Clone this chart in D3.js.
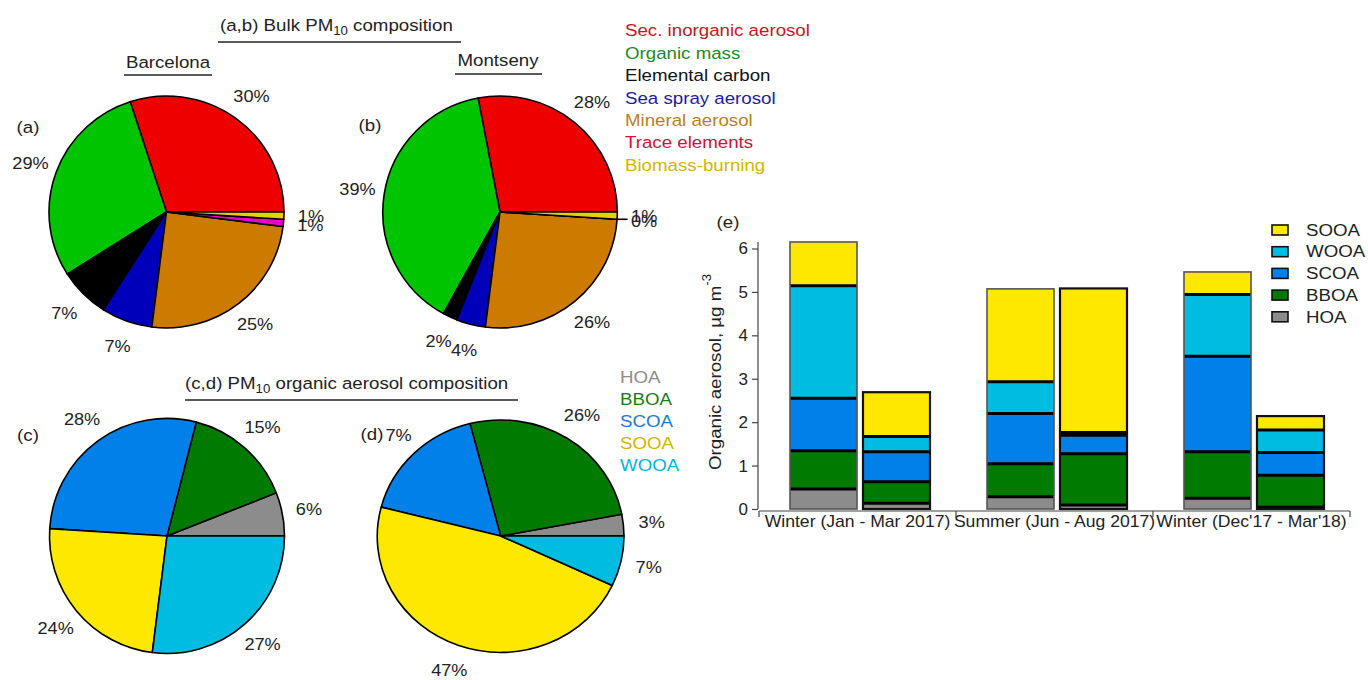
<!DOCTYPE html>
<html>
<head>
<meta charset="utf-8">
<script src="https://cdn.jsdelivr.net/npm/d3@7"></script>
<style>
  html, body { margin: 0; padding: 0; background: #fff; }
  svg { display: block; font-family: "Liberation Sans", Arial, sans-serif; }
</style>
</head>
<body>
<svg id="fig" width="1368" height="680"></svg>
<script>
// ---- Bulk PM10 composition (panels a, b) ----
const bulkComponents = ["Sec. inorganic aerosol", "Organic mass", "Elemental carbon",
  "Sea spray aerosol", "Mineral aerosol", "Trace elements", "Biomass-burning"];
const bulkFill = ["#ee0000", "#00c400", "#000000", "#0000bb", "#cc7a00", "#ee00cc", "#e8d000"];
const bulkText = ["#c8141e", "#1e8a1e", "#111111", "#1c1ca0", "#b8801a", "#d0103a", "#d4b400"];
const barcelonaBulk = [30, 29, 7, 7, 25, 1, 1];
const montsenyBulk = [28, 39, 2, 4, 26, 0, 1];

// ---- PM10 organic aerosol composition (panels c, d) ----
const oaFactors = ["HOA", "BBOA", "SCOA", "SOOA", "WOOA"];
const oaFill = ["#8c8c8c", "#007a00", "#0080e8", "#ffe800", "#00bce0"];
const oaText = ["#8c8c8c", "#1a7a1a", "#1f78d0", "#d4b400", "#00b4dc"];
const barcelonaOA = [6, 15, 28, 24, 27];
const montsenyOA = [3, 26, 17, 47, 7];

// ---- Seasonal organic aerosol (panel e), µg m-3 ----
const seasons = ["Winter (Jan - Mar 2017)", "Summer (Jun - Aug 2017)", "Winter (Dec'17 - Mar'18)"];
const sites = ["Barcelona", "Montseny"];
// values per bar, ordered season by season, Barcelona then Montseny
const hoa  = [0.46, 0.13, 0.28, 0.09, 0.25, 0.04];
const bboa = [0.88, 0.50, 0.76, 1.18, 1.07, 0.74];
const scoa = [1.21, 0.69, 1.16, 0.43, 2.20, 0.52];
const wooa = [2.59, 0.35, 0.73, 0.06, 1.42, 0.52];
const sooa = [1.01, 1.02, 2.14, 3.32, 0.52, 0.32];
const yTicks = [0, 1, 2, 3, 4, 5, 6];
const stackOrder = ["HOA", "BBOA", "SCOA", "WOOA", "SOOA"];
const legendOrder = ["SOOA", "WOOA", "SCOA", "BBOA", "HOA"];

const svg = d3.select("#fig");
const SX = 1.1; // the figure's lettering is set slightly wide

function label(parent, x, y, txt, o = {}) {
  const g = parent.append("g").attr("transform", `translate(${x},${y}) scale(${o.sx || SX},1)`);
  const t = g.append("text")
    .attr("text-anchor", o.anchor || "start")
    .attr("dominant-baseline", o.baseline || "auto")
    .attr("font-size", o.size || 17)
    .attr("fill", o.fill || "#222")
    .text(txt);
  return { g, t };
}

// ---- pies ----
function drawPie(values, fills, cx, cy, rx, ry, opts = {}) {
  const pie = d3.pie().sort(null).value(d => d)
    .startAngle(Math.PI / 2).endAngle(Math.PI / 2 - 2 * Math.PI);
  const arcs = pie(values);
  const arc = d3.arc().innerRadius(0).outerRadius(1);
  const g = svg.append("g").attr("transform", `translate(${cx},${cy}) scale(${rx},${ry})`);
  g.selectAll("path").data(arcs).join("path")
    .attr("d", arc)
    .attr("fill", (d, i) => fills[i])
    .attr("stroke", "#000")
    .attr("stroke-width", 1.6)
    .attr("stroke-linejoin", "round")
    .attr("vector-effect", "non-scaling-stroke");
  const k = 1.23;
  arcs.forEach((a, i) => {
    const mid = (a.startAngle + a.endAngle) / 2;
    const x = cx + k * rx * Math.sin(mid);
    const y = cy - k * ry * Math.cos(mid);
    if (a.data === 0) {
      svg.append("line")
        .attr("x1", cx + rx * Math.sin(mid)).attr("y1", cy - ry * Math.cos(mid))
        .attr("x2", cx + rx * 1.09 * Math.sin(mid)).attr("y2", cy - ry * Math.cos(mid))
        .attr("stroke", "#000").attr("stroke-width", 1.6);
    }
    label(svg, x, y, a.data + "%", { anchor: "middle", baseline: "central", size: 16.5, fill: "#222" });
  });
}

drawPie(barcelonaBulk, bulkFill, 166.5, 212, 117.5, 116);
drawPie(montsenyBulk, bulkFill, 500, 212, 117.3, 116);
drawPie(barcelonaOA, oaFill, 167, 536, 117.5, 117.5);
drawPie(montsenyOA, oaFill, 500.7, 536, 123.3, 116);

// panel letters
label(svg, 28, 127, "(a)", { anchor: "middle", baseline: "central" });
label(svg, 370, 125, "(b)", { anchor: "middle", baseline: "central" });
label(svg, 28, 435, "(c)", { anchor: "middle", baseline: "central" });
// the (d) tag sits on a white patch, over the left edge of the SCOA label
svg.append("rect").attr("x", 355).attr("y", 422).attr("width", 30.5).attr("height", 24).attr("fill", "#fff");
label(svg, 372, 434, "(d)", { anchor: "middle", baseline: "central" });

// headings with underlines
function heading(x, yBase, parts, lineX1, lineX2, lineY) {
  const g = svg.append("g").attr("transform", `translate(${x},${yBase}) scale(${SX},1)`);
  const t = g.append("text").attr("font-size", 17).attr("fill", "#222");
  parts.forEach(p => {
    const ts = t.append("tspan").text(p.t);
    if (p.sub) ts.attr("font-size", 12).attr("dy", 4);
    if (p.after) ts.attr("dy", -4);
  });
  svg.append("line").attr("x1", lineX1).attr("x2", lineX2).attr("y1", lineY).attr("y2", lineY)
    .attr("stroke", "#222").attr("stroke-width", 1.3);
}
heading(220, 31, [{ t: "(a,b) Bulk PM" }, { t: "10", sub: true }, { t: " composition", after: true }], 218, 461, 42);
heading(185, 389, [{ t: "(c,d) PM" }, { t: "10", sub: true }, { t: " organic aerosol composition", after: true }], 185, 518, 400);

label(svg, 168, 68, sites[0], { anchor: "middle" });
svg.append("line").attr("x1", 124).attr("x2", 212).attr("y1", 75).attr("y2", 75).attr("stroke", "#222").attr("stroke-width", 1.3);
label(svg, 498, 66, sites[1], { anchor: "middle" });
svg.append("line").attr("x1", 455).attr("x2", 542).attr("y1", 74).attr("y2", 74).attr("stroke", "#222").attr("stroke-width", 1.3);

// text legends for the pies
bulkComponents.forEach((name, i) => {
  label(svg, 625, 30.7 + i * 22.4, name, { baseline: "central", fill: bulkText[i] });
});
oaFactors.forEach((name, i) => {
  label(svg, 620, 377 + i * 22, name, { baseline: "central", fill: oaText[i] });
});

// ---- stacked bars (panel e) ----
const bars = [];
seasons.forEach((s, si) => sites.forEach((site, pi) => {
  const idx = si * 2 + pi;
  bars.push({ season: s, site, HOA: hoa[idx], BBOA: bboa[idx], SCOA: scoa[idx], WOOA: wooa[idx], SOOA: sooa[idx] });
}));
const colorOf = d3.scaleOrdinal().domain(oaFactors).range(oaFill);

const x0 = d3.scaleBand().domain(seasons).range([759, 1350]).padding(0);
const x1 = d3.scaleBand().domain(sites).range([31, 171]).paddingInner(0.082);
const y = d3.scaleLinear().domain([0, 6]).range([509, 248.5]);

const stacked = d3.stack().keys(stackOrder)(bars);
const gBars = svg.append("g");
bars.forEach((b, bi) => {
  const bx = x0(b.season) + x1(b.site);
  const w = x1.bandwidth();
  stacked.forEach((layer, li) => {
    const seg = layer[bi];
    gBars.append("rect")
      .attr("x", bx).attr("width", w)
      .attr("y", y(seg[1])).attr("height", y(seg[0]) - y(seg[1]))
      .attr("fill", colorOf(layer.key));
  });
  // dividers between stacked components
  stacked.slice(0, -1).forEach(layer => {
    const top = layer[bi][1];
    gBars.append("line")
      .attr("x1", bx).attr("x2", bx + w).attr("y1", y(top)).attr("y2", y(top))
      .attr("stroke", "#000").attr("stroke-width", 3);
  });
  const total = stacked[stacked.length - 1][bi][1];
  gBars.append("rect")
    .attr("x", bx).attr("width", w).attr("y", y(total)).attr("height", y(0) - y(total))
    .attr("fill", "none")
    .attr("stroke", b.site === sites[0] ? "#555" : "#111")
    .attr("stroke-width", b.site === sites[0] ? 1.6 : 2.2);
});

// y axis
const maxTotal = d3.max(stacked[stacked.length - 1], d => d[1]);
const yAxis = svg.append("g").attr("transform", "translate(758,0)")
  .call(d3.axisLeft(y).tickValues(yTicks).tickSize(6).tickPadding(4).tickFormat(d3.format("d")));
yAxis.select(".domain").remove();
yAxis.selectAll(".tick line").attr("stroke", "#444").attr("stroke-width", 1.2);
yAxis.selectAll(".tick text").attr("font-size", 17).attr("fill", "#222")
  .attr("font-family", "Liberation Sans, Arial, sans-serif");
svg.append("line").attr("x1", 758).attr("x2", 758).attr("y1", y(0)).attr("y2", y(maxTotal))
  .attr("stroke", "#444").attr("stroke-width", 1.2);

// x axis with boundaries between seasons
const xAxisY = 511;
svg.append("line").attr("x1", x0.range()[0]).attr("x2", x0.range()[1]).attr("y1", xAxisY).attr("y2", xAxisY)
  .attr("stroke", "#444").attr("stroke-width", 1.2);
const bounds = seasons.map(s => x0(s)).concat([x0.range()[1]]);
svg.selectAll(".xb").data(bounds).join("line")
  .attr("x1", d => d).attr("x2", d => d).attr("y1", xAxisY).attr("y2", xAxisY + 6)
  .attr("stroke", "#444").attr("stroke-width", 1.2);
seasons.forEach(s => {
  label(svg, x0(s) + x0.bandwidth() / 2, 522, s, { anchor: "middle", baseline: "central", size: 16 });
});

// y axis title
const yt = svg.append("g").attr("transform", "translate(715,372) rotate(-90) scale(1.1,1)");
const ytt = yt.append("text").attr("text-anchor", "middle").attr("dominant-baseline", "central")
  .attr("font-size", 17).attr("fill", "#222");
ytt.append("tspan").text("Organic aerosol, µg m");
ytt.append("tspan").text("-3").attr("font-size", 12).attr("dy", -8);

label(svg, 728, 222, "(e)", { anchor: "middle", baseline: "central" });

// legend for the bars
legendOrder.forEach((k, i) => {
  const cy = 230 + i * 21.7;
  svg.append("rect").attr("x", 1272).attr("y", cy - 5).attr("width", 16).attr("height", 10)
    .attr("fill", colorOf(k)).attr("stroke", "#111").attr("stroke-width", 1.6);
  label(svg, 1306, cy, k, { baseline: "central" });
});
</script>
</body>
</html>
